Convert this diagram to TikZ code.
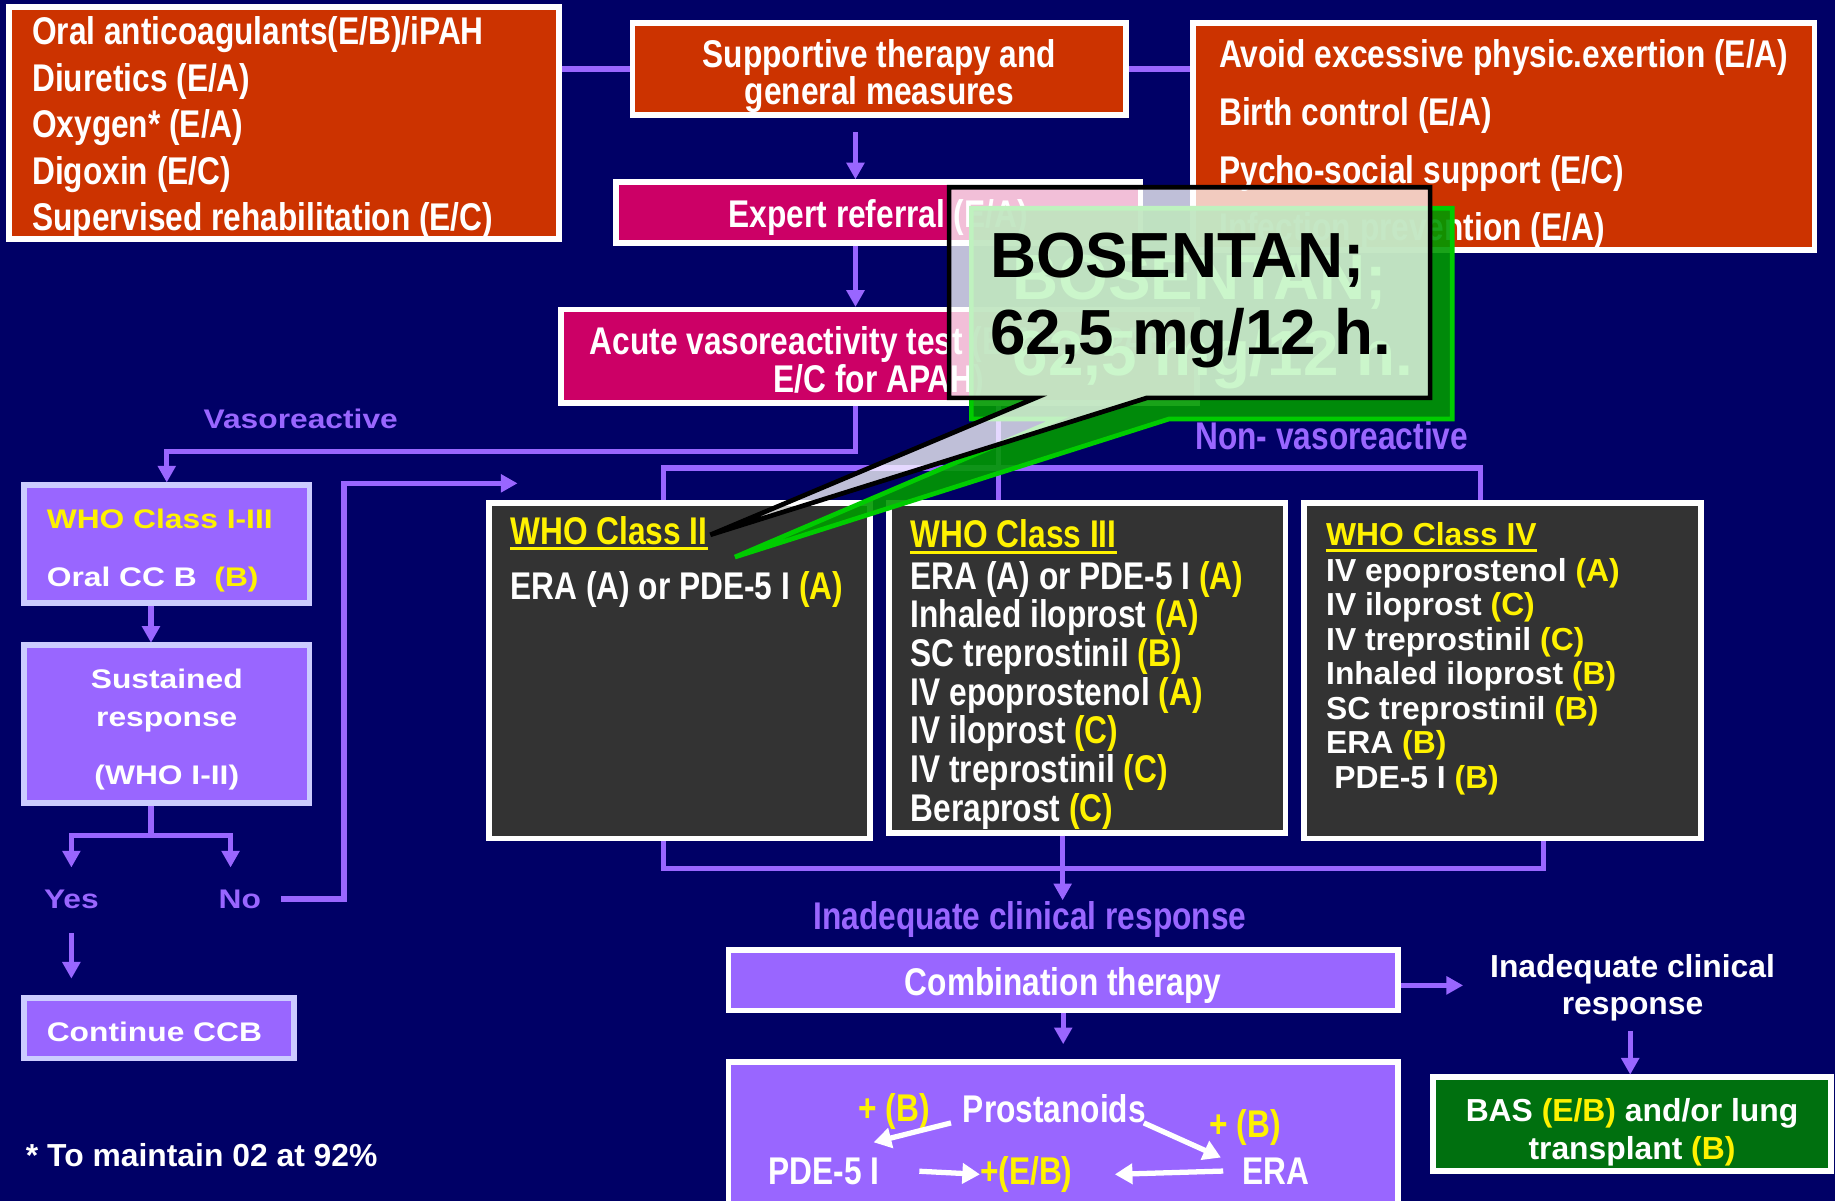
\documentclass[tikz,border=0pt]{standalone}
\usepackage{fontspec}
\setmainfont{Liberation Sans}
\newfontfamily\narrowfam{Liberation Sans}[FakeStretch=0.82]
\newfontfamily\widefam{Liberation Sans}[FakeStretch=1.18]
\usepackage{xcolor}
\usetikzlibrary{calc,arrows.meta}
\definecolor{navybg}{HTML}{000066}
\definecolor{boxred}{HTML}{CC3300}
\definecolor{boxmag}{HTML}{CC0066}
\definecolor{lilac}{HTML}{9966FF}
\definecolor{paleline}{HTML}{CCCCFF}
\definecolor{slate}{HTML}{333333}
\definecolor{basgreen}{HTML}{00700F}
\definecolor{shadegreen}{HTML}{009900}
\definecolor{shadeedge}{HTML}{00CC00}
\definecolor{ghostgreen}{HTML}{33DD33}
\newcommand{\fnarrow}[1][32]{\narrowfam\bfseries\fontsize{33}{#1}\selectfont}
\newcommand{\fplain}[1][30]{\bfseries\fontsize{27.2}{#1}\selectfont}
\newcommand{\fwide}[1][33]{\widefam\bfseries\fontsize{23}{#1}\selectfont}
\newcommand{\fdose}{\bfseries\fontsize{54.5}{65}\selectfont}
\newcommand{\yel}[1]{\textcolor{yellow}{#1}}
\newcommand{\topgap}[1]{\spaceskip=0pt\xspaceskip=0pt\rule{0pt}{#1pt}}

\begin{document}
\begin{tikzpicture}[x=1pt,y=-1pt]
\tikzstyle{every node}+=[inner sep=0pt]
\tikzstyle{redbox}=[draw=white, line width=5pt, fill=boxred, text=white]
\tikzstyle{magbox}=[draw=white, line width=5pt, fill=boxmag, text=white]
\tikzstyle{lilacbox}=[draw=paleline, line width=5pt, fill=lilac, text=white]
\tikzstyle{combobox}=[draw=white, line width=5pt, fill=lilac, text=white]
\tikzstyle{classbox}=[draw=white, line width=5pt, fill=slate]
\tikzstyle{link}=[draw=lilac, line width=4.5pt]
\tikzstyle{head}=[fill=lilac]
\tikzstyle{whitearrow}=[draw=white, line width=4.5pt, -{Triangle[width=17pt,length=15pt]}]

\fill [navybg] (0,0) rectangle (1568,1026);
\useasboundingbox (0,0) rectangle (1568,1026);
\coordinate (spine) at (731,0);

% supportive measures
\node [redbox, minimum width=470pt, minimum height=197pt, text width=430pt, align=left, font={\fnarrow[39.7]}] (meds) at (242.5,105)
  {\topgap{32.5}Oral anticoagulants(E/B)/iPAH\\ Diuretics (E/A)\\ Oxygen* (E/A)\\ Digoxin (E/C)\\ Supervised rehabilitation (E/C)};
\node [redbox, minimum width=422pt, minimum height=79pt, align=center, font={\fnarrow[32]}] (sup) at (751.5,59)
  {\topgap{36}Supportive therapy and\\ general measures};
\node [redbox, minimum width=531pt, minimum height=194pt, align=left, font={\fnarrow[49.3]}] (gen) at (1285,116.5)
  {\topgap{37.5}Avoid excessive physic.exertion (E/A)\\ Birth control (E/A)\\ Pycho-social support (E/C)\\ Infection prevention (E/A)};
\node [magbox, minimum width=448pt, minimum height=52pt, font=\fnarrow] (expert) at (750.5,181.5) {\topgap{32.5}Expert referral (E/A)};
\node [magbox, minimum width=543pt, minimum height=80pt, align=center, font={\fnarrow[32]}] (acute) at (751,304.5)
  {\topgap{36.5}Acute vasoreactivity test (E/A for iPAH\\ E/C for APAH)};

% vasoreactive column
\node [anchor=base, text=lilac, font=\fwide] (vaso) at (257,366) {Vasoreactive};
\node [lilacbox, minimum width=244pt, minimum height=101pt, text width=205pt, align=left, font={\fwide[49]}] (who13) at (142.5,465)
  {\topgap{27.8}\yel{WHO Class I-III}\\ Oral CC B~~\yel{(B)}};
\node [lilacbox, minimum width=244pt, minimum height=135pt, align=center, font={\fwide[33]}] (sust) at (142.5,619)
  {\topgap{24.8}Sustained\\ response\\[16pt] (WHO I-II)};
\node [anchor=base, text=lilac, font=\fwide] (yes) at (61,776) {Yes};
\node [anchor=base, text=lilac, font=\fwide] (no) at (205,776) {No};
\node [lilacbox, minimum width=231pt, minimum height=52pt, text width=192pt, align=left, font=\fwide] (ccb) at (136,878.5) {\topgap{22.8}Continue CCB};

% non-vasoreactive classes
\node [anchor=base, text=lilac, font=\fnarrow] (nonvaso) at (1138,384) {Non- vasoreactive};
\node [classbox, minimum width=326pt, minimum height=287pt] (c2) at (580.5,573) {};
\node [classbox, minimum width=339pt, minimum height=282pt] (c3) at (929,570.5) {};
\node [classbox, minimum width=339pt, minimum height=287pt] (c4) at (1284,573) {};

\node [anchor=base west, text=yellow, font=\fnarrow] (c2head) at (436,465) {WHO Class II};
\node [anchor=base west, text=white, font=\fnarrow] (c2list) at (436,512) {ERA (A) or PDE-5 I \yel{(A)}};
\node [anchor=base west, text=yellow, font=\fnarrow] (c3head) at (778,468) {WHO Class III};
\node [anchor=west, text=white, align=left, font={\fnarrow[33]}] (c3list) at (778,594)
  {ERA (A) or PDE-5 I \yel{(A)}\\ Inhaled iloprost \yel{(A)}\\ SC treprostinil \yel{(B)}\\ IV epoprostenol \yel{(A)}\\
   IV iloprost \yel{(C)}\\ IV treprostinil \yel{(C)}\\ Beraprost \yel{(C)}};
\node [anchor=base west, text=yellow, font=\fplain] (c4head) at (1133,466) {WHO Class IV};
\node [anchor=west, text=white, align=left, font={\fplain[29.5]}] (c4list) at (1133,578)
  {IV epoprostenol \yel{(A)}\\ IV iloprost \yel{(C)}\\ IV treprostinil \yel{(C)}\\ Inhaled iloprost \yel{(B)}\\
   SC treprostinil \yel{(B)}\\ ERA \yel{(B)}\\ \hspace*{7pt}PDE-5 I \yel{(B)}};
\foreach \h in {c2head,c3head,c4head}
  \draw [yellow, line width=2.5pt] ($(\h.base west)+(0,4)$) -- ($(\h.base east)+(0,4)$);

% inadequate response
\node [anchor=base, text=lilac, font=\fnarrow] (inad) at (880,794) {Inadequate clinical response};
\node [combobox, minimum width=572pt, minimum height=52pt, font=\fnarrow] (combo) at (908.5,837.5) {\topgap{32.5}Combination therapy};
\node [combobox, minimum width=572pt, minimum height=130pt] (regimen) at (908.5,972.5) {};
\node [text=white, align=center, font={\fplain[32]}] (inad2) at (1395,844) {Inadequate clinical\\ response};
\node [draw=white, line width=5pt, fill=basgreen, text=white, minimum width=340pt, minimum height=80pt, align=center, font={\fplain[32]}] (bas) at (1394.5,960.5)
  {\topgap{34}BAS \yel{(E/B)} and/or lung\\ transplant \yel{(B)}};

\node [anchor=base, text=yellow, font=\fnarrow] (plusb1) at (764,958) {+ (B)};
\node [anchor=base, text=white, font=\fnarrow] (prost) at (901,959) {Prostanoids};
\node [anchor=base, text=yellow, font=\fnarrow] (plusb2) at (1064,972) {+ (B)};
\node [anchor=base, text=white, font=\fnarrow] (pde) at (704,1012) {PDE-5 I};
\node [anchor=base, text=yellow, font=\fnarrow] (pluseb) at (877,1012) {+(E/B)};
\node [anchor=base, text=white, font=\fnarrow] (era) at (1090,1012) {ERA};

\node [anchor=base west, text=white, font=\fplain] (note) at (22,997) {* To maintain 02 at 92\%};

% connectors
\draw [link] (sup.west) -- (sup.west -| meds.east);
\draw [link] (sup.east) -- (sup.east -| gen.west);
\draw [link] ($(sup.south -| spine)+(0,12)$) -- ($(expert.north -| spine)+(0,-12)$);
\fill [head] (expert.north -| spine) -- ++(-8,-14) -- ++(16,0) -- cycle;
\draw [link] (expert.south -| spine) -- ($(acute.north -| spine)+(0,-12)$);
\fill [head] (acute.north -| spine) -- ++(-8,-14) -- ++(16,0) -- cycle;

\draw [link] (acute.south -| spine) |- ($(who13.north)+(0,-26)$) -- ($(who13.north)+(0,-12)$);
\fill [head] (who13.north) -- ++(-8,-14) -- ++(16,0) -- cycle;
\draw [link] ($(who13.south)+(-13.5,0)$) -- ($(sust.north)+(-13.5,-12)$);
\fill [head] ($(sust.north)+(-13.5,0)$) -- ++(-8,-14) -- ++(16,0) -- cycle;
\draw [link] ($(sust.south)+(-13.5,0)$) -- ++(0,25) coordinate (fork);
\draw [link] ($(fork -| yes)+(0,15)$) -- (fork -| yes) -- ($(fork -| no)+(-8,0)$) -- ++(0,15);
\fill [head] ($(fork -| yes)+(0,27)$) -- ++(-8,-14) -- ++(16,0) -- cycle;
\fill [head] ($(fork -| no)+(-8,27)$) -- ++(-8,-14) -- ++(16,0) -- cycle;
\draw [link] ($(yes.south)+(0,21)$) -- ($(ccb.north -| yes)+(0,-26)$);
\fill [head] ($(ccb.north -| yes)+(0,-14)$) -- ++(-8,-14) -- ++(16,0) -- cycle;
\draw [link] ($(no.east)+(17,0)$) -| ($(c2.north west)+(-121,-14)$) -- ($(c2.north west)+(15,-14)$);
\fill [head] ($(c2.north west)+(27,-14)$) -- ++(-14,-8) -- ++(0,16) -- cycle;

\draw [link] ($(acute.south)+(102,0)$) -- ($(c3.north)+(-76,0)$);
\draw [link] ($(c2.north)+(-13.5,0)$) |- ($(c4.north)+(-19,-27)$) -- ($(c4.north)+(-19,0)$);
\draw [link] ($(c2.south)+(-13.5,0)$) |- ($(c4.south)+(35,23)$) -- ($(c4.south)+(35,0)$);
\draw [link] ($(c3.south)+(-21,0)$) -- ($(c3.south)+(-21,43)$);
\fill [head] ($(c3.south)+(-21,55)$) -- ++(-8,-14) -- ++(16,0) -- cycle;

\draw [link] ($(combo.east)+(0,4.5)$) -- ($(combo.east)+(41,4.5)$);
\fill [head] ($(combo.east)+(53,4.5)$) -- ++(-14,-8) -- ++(0,16) -- cycle;
\draw [link] ($(inad2.south)+(-2,8)$) -- ($(bas.north)+(-1.5,-12)$);
\fill [head] ($(bas.north)+(-1.5,0)$) -- ++(-8,-14) -- ++(16,0) -- cycle;
\draw [link] (combo.south) -- ($(regimen.north)+(0,-25)$);
\fill [head] ($(regimen.north)+(0,-13)$) -- ++(-8,-14) -- ++(16,0) -- cycle;

\draw [whitearrow] ($(prost.south west)+(-10,0)$) -- ($(pde.north east)+(-5,-13)$);
\draw [whitearrow] ($(prost.south east)+(-2,0)$) -- ($(era.north west)+(-18,0)$);
\draw [whitearrow] ($(pde.east)+(34,0)$) -- (pluseb.west);
\draw [whitearrow] ($(era.west)+(-16,0)$) -- ($(pluseb.east)+(36,0)$);

% dose callout
\filldraw [fill=shadegreen, fill opacity=0.9, draw=shadeedge, line width=4pt]
  (830,178) -- (1241,178) -- (1241,358) -- (999,358) -- (628,476) -- (904,358) -- (830,358) -- cycle;
\node [anchor=base west, text=ghostgreen, font=\fdose] (ghost1) at (865,255.5) {BOSENTAN;};
\node [anchor=base west, text=ghostgreen, font=\fdose] (ghost2) at (865,320.5) {62,5 mg/12 h.};
\filldraw [fill=white, fill opacity=0.75, draw=black, line width=4pt]
  (811,160) -- (1222,160) -- (1222,340) -- (980,340) -- (607,457) -- (885,340) -- (811,340) -- cycle;
\node [anchor=base west, text=black, font=\fdose] (dose1) at (846,237.5) {BOSENTAN;};
\node [anchor=base west, text=black, font=\fdose] (dose2) at (846,302.5) {62,5 mg/12 h.};
\end{tikzpicture}
\end{document}
